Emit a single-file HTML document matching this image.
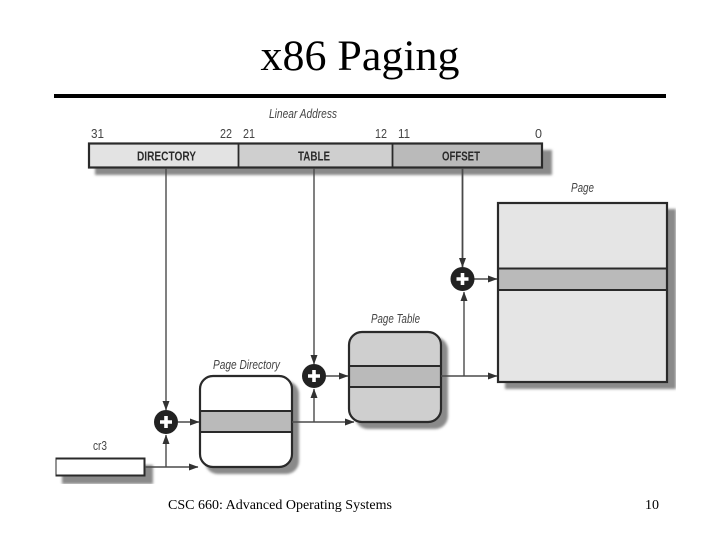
<!DOCTYPE html>
<html>
<head>
<meta charset="utf-8">
<style>
html,body{margin:0;padding:0;background:#fff;width:720px;height:540px;overflow:hidden}
svg{display:block}
.t{font-family:"Liberation Serif",serif;fill:#000}
.l{font-family:"Liberation Sans",sans-serif;fill:#444;font-size:13px}
.i{font-family:"Liberation Sans",sans-serif;fill:#444;font-size:13px;font-style:italic}
.b{font-family:"Liberation Sans",sans-serif;fill:#2a2a2a;font-size:12.5px;font-weight:bold}
</style>
</head>
<body>
<svg width="720" height="540" viewBox="0 0 720 540" xmlns="http://www.w3.org/2000/svg">
<defs>
<filter id="s" x="-20%" y="-20%" width="140%" height="140%"><feGaussianBlur stdDeviation="1.2"/></filter>
<filter id="soft" x="0" y="0" width="100%" height="100%"><feGaussianBlur stdDeviation="0.35"/></filter>
<marker id="a" markerWidth="10" markerHeight="8" refX="9" refY="4" orient="auto" markerUnits="userSpaceOnUse"><path d="M0,0.5 L9.500,4 L0,7.500 Z" fill="#333"/></marker>
</defs>

<text class="t" x="360" y="70" font-size="43" text-anchor="middle" textLength="199" lengthAdjust="spacingAndGlyphs">x86 Paging</text>
<rect x="54" y="94" width="612" height="4" fill="#000"/>

<g filter="url(#soft)">
<text class="i" x="269" y="118" textLength="68" lengthAdjust="spacingAndGlyphs">Linear Address</text>
<text class="l" x="91" y="138" textLength="13" lengthAdjust="spacingAndGlyphs">31</text>
<text class="l" x="220" y="138" textLength="12" lengthAdjust="spacingAndGlyphs">22</text>
<text class="l" x="243" y="138" textLength="12" lengthAdjust="spacingAndGlyphs">21</text>
<text class="l" x="375" y="138" textLength="12" lengthAdjust="spacingAndGlyphs">12</text>
<text class="l" x="398" y="138" textLength="12" lengthAdjust="spacingAndGlyphs">11</text>
<text class="l" x="535" y="138" textLength="7" lengthAdjust="spacingAndGlyphs">0</text>

<!-- shadows -->
<g fill="#8a8a8a" filter="url(#s)">
<rect x="95" y="150" width="457" height="25"/>
<rect x="505" y="209" width="171" height="180"/>
<rect x="205" y="381" width="94" height="93" rx="13"/>
<rect x="355" y="337" width="93" height="92" rx="13"/>
<rect x="62" y="465" width="91" height="19"/>
</g>

<!-- address bar -->
<rect x="89" y="143.500" width="149.500" height="24" fill="#e3e3e3"/>
<rect x="238.500" y="143.500" width="154" height="24" fill="#cfcfcf"/>
<rect x="392.500" y="143.500" width="149" height="24" fill="#bababa"/>
<rect x="89" y="143.500" width="453" height="24" fill="none" stroke="#2b2b2b" stroke-width="2.200"/>
<path d="M238.500,144V168M392.500,144V168" stroke="#2b2b2b" stroke-width="1.800"/>
<text class="b" x="137" y="160.500" textLength="59" lengthAdjust="spacingAndGlyphs">DIRECTORY</text>
<text class="b" x="298" y="160.500" textLength="32" lengthAdjust="spacingAndGlyphs">TABLE</text>
<text class="b" x="442" y="160.500" textLength="38" lengthAdjust="spacingAndGlyphs">OFFSET</text>

<!-- Page -->
<text class="i" x="571" y="192" textLength="23" lengthAdjust="spacingAndGlyphs">Page</text>
<rect x="498" y="203" width="169" height="179" fill="#e5e5e5"/>
<rect x="498" y="268.500" width="169" height="21.500" fill="#bababa"/>
<path d="M498,268.500H667M498,290H667" stroke="#2b2b2b" stroke-width="2"/>
<rect x="498" y="203" width="169" height="179" fill="none" stroke="#2b2b2b" stroke-width="2.200"/>

<!-- Page Table -->
<text class="i" x="371" y="323" textLength="49" lengthAdjust="spacingAndGlyphs">Page Table</text>
<rect x="349" y="332" width="92" height="90" rx="13" fill="#cfcfcf"/>
<rect x="349" y="366" width="92" height="21" fill="#bababa"/>
<path d="M349,366H441M349,387H441" stroke="#2b2b2b" stroke-width="2"/>
<rect x="349" y="332" width="92" height="90" rx="13" fill="none" stroke="#2b2b2b" stroke-width="2.200"/>

<!-- Page Directory -->
<text class="i" x="213" y="369" textLength="67" lengthAdjust="spacingAndGlyphs">Page Directory</text>
<rect x="200" y="376" width="92" height="91" rx="13" fill="#fff"/>
<rect x="200" y="411" width="92" height="21" fill="#bababa"/>
<path d="M200,411H292M200,432H292" stroke="#2b2b2b" stroke-width="2"/>
<rect x="200" y="376" width="92" height="91" rx="13" fill="none" stroke="#2b2b2b" stroke-width="2.200"/>

<!-- cr3 -->
<text class="l" x="93" y="450" textLength="14" lengthAdjust="spacingAndGlyphs">cr3</text>
<rect x="55.500" y="458.500" width="89" height="17" fill="#fff" stroke="#2b2b2b" stroke-width="2"/>

<!-- connectors -->
<g fill="none" stroke="#4a4a4a" stroke-width="1.400">
<path d="M166,168V410" marker-end="url(#a)"/>
<path d="M314,168V364" marker-end="url(#a)"/>
<path d="M462.500,168V267" stroke-width="1.800" marker-end="url(#a)"/>
<path d="M145,467H198" marker-end="url(#a)"/>
<path d="M166,467V435" marker-end="url(#a)"/>
<path d="M178,422H199" marker-end="url(#a)"/>
<path d="M292,422H354" marker-end="url(#a)"/>
<path d="M314,422V389" marker-end="url(#a)"/>
<path d="M326,376H348" marker-end="url(#a)"/>
<path d="M441,376H497" marker-end="url(#a)"/>
<path d="M464,376V292" marker-end="url(#a)"/>
<path d="M474,279H497" marker-end="url(#a)"/>
</g>

<!-- adders -->
<g>
<circle cx="166" cy="422" r="12" fill="#222"/>
<path d="M160,422H172M166,416V428" stroke="#fff" stroke-width="3.600"/>
<circle cx="314" cy="376" r="12" fill="#222"/>
<path d="M308,376H320M314,370V382" stroke="#fff" stroke-width="3.600"/>
<circle cx="462.500" cy="279" r="12" fill="#222"/>
<path d="M456.500,279H468.500M462.500,273V285" stroke="#fff" stroke-width="3.600"/>
</g>
</g>

<text class="t" x="168" y="509" font-size="14" textLength="224" lengthAdjust="spacingAndGlyphs">CSC 660: Advanced Operating Systems</text>
<text class="t" x="645" y="509" font-size="14" textLength="14" lengthAdjust="spacingAndGlyphs">10</text>
</svg>
</body>
</html>
